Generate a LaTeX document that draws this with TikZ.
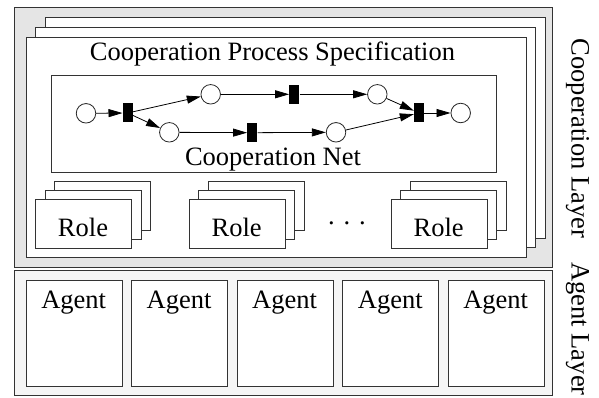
\documentclass[tikz,border=0pt]{standalone}
\usepackage{fontspec}
\setmainfont{Liberation Serif}
\usetikzlibrary{arrows.meta}
\begin{document}
\begin{tikzpicture}[x=1pt,y=-1pt,
  box/.style={draw=black!80, line width=0.8pt, fill=white, rectangle, inner sep=0pt, anchor=north west},
  lbl/.style={font=\fontsize{26.5}{30}\selectfont, inner sep=0pt},
  place/.style={circle, draw=black!85, line width=0.8pt, fill=white, minimum size=19.5pt, inner sep=0pt},
  trans/.style={rectangle, fill=black, minimum width=10pt, minimum height=19pt, inner sep=0pt},
  arc/.style={-{Triangle[length=14pt,width=8pt]}, line width=0.8pt},
  rolebox/.style={box, minimum width=96pt, minimum height=49pt},
  agentbox/.style={box, minimum width=96pt, minimum height=105.7pt}
]
\useasboundingbox (0,0) rectangle (599,398);

% layers
\node[box, fill=black!10, minimum width=538pt, minimum height=259pt] (coop) at (14,7.5) {};
\node[box, fill=black!4, minimum width=538pt, minimum height=125pt] (agl) at (14,270) {};

% specification stack
\node[box, minimum width=500pt, minimum height=220pt] (spec3) at (44.7,17.5) {};
\node[box, minimum width=500pt, minimum height=220pt] (spec2) at (35.2,27.4) {};
\node[box, minimum width=500pt, minimum height=220pt] (spec1) at (25.7,37.3) {};
\node[lbl, anchor=base] (spectitle) at (272.5,61) {Cooperation Process Specification};

% cooperation net
\node[box, minimum width=445.3pt, minimum height=96.7pt] (net) at (50.7,75) {};
\node[lbl, anchor=base] (netlabel) at (273,165.5) {Cooperation Net};

\node[place] (p1) at (86,113.3) {};
\node[trans] (t1) at (127.7,113) {};
\node[place] (p2) at (210.7,94.3) {};
\node[place] (p3) at (169.3,132.3) {};
\node[trans] (t2) at (294.3,94.3) {};
\node[trans] (t3) at (252.3,132.7) {};
\node[place] (p4) at (377.3,94.3) {};
\node[place] (p5) at (336,132.3) {};
\node[trans] (t4) at (419,113) {};
\node[place] (p6) at (460.7,113) {};

\draw[arc] (p1) -- (t1);
\draw[arc] (t1) -- (p2);
\draw[arc] (t1) -- (p3);
\draw[arc] (p2) -- (t2);
\draw[arc] (p3) -- (t3);
\draw[arc] (t2) -- (p4);
\draw[arc] (t3) -- (p5);
\draw[arc] (p4) -- (t4);
\draw[arc] (p5) -- (t4);
\draw[arc] (t4) -- (p6);

% roles
\foreach \rx/\nm in {35/a,188.7/b,390.7/c}{
  \node[rolebox] (role\nm3) at (\rx+19.4,199.3-18.6) {};
  \node[rolebox] (role\nm2) at (\rx+9.7,199.3-9.3) {};
  \node[rolebox] (role\nm1) at (\rx,199.3) {};
  \node[lbl, anchor=base] (rolelbl\nm) at (\rx+48,236) {Role};
}
\node[lbl, anchor=base] (dots) at (347,224.5) {.\,\,.\,\,.};

% agents
\foreach \ax/\nm in {25.7/a,131/b,236.5/c,342.3/d,447.7/e}{
  \node[agentbox] (agent\nm) at (\ax,280) {};
  \node[lbl, anchor=base] (agentlbl\nm) at (\ax+48,308.3) {Agent};
}

% side labels
\node[lbl, anchor=base, rotate=-90] (coopl) at (571.5,138.5) {Cooperation Layer};
\node[lbl, anchor=base, rotate=-90] (agentl) at (571.5,329) {Agent Layer};
\end{tikzpicture}
\end{document}
